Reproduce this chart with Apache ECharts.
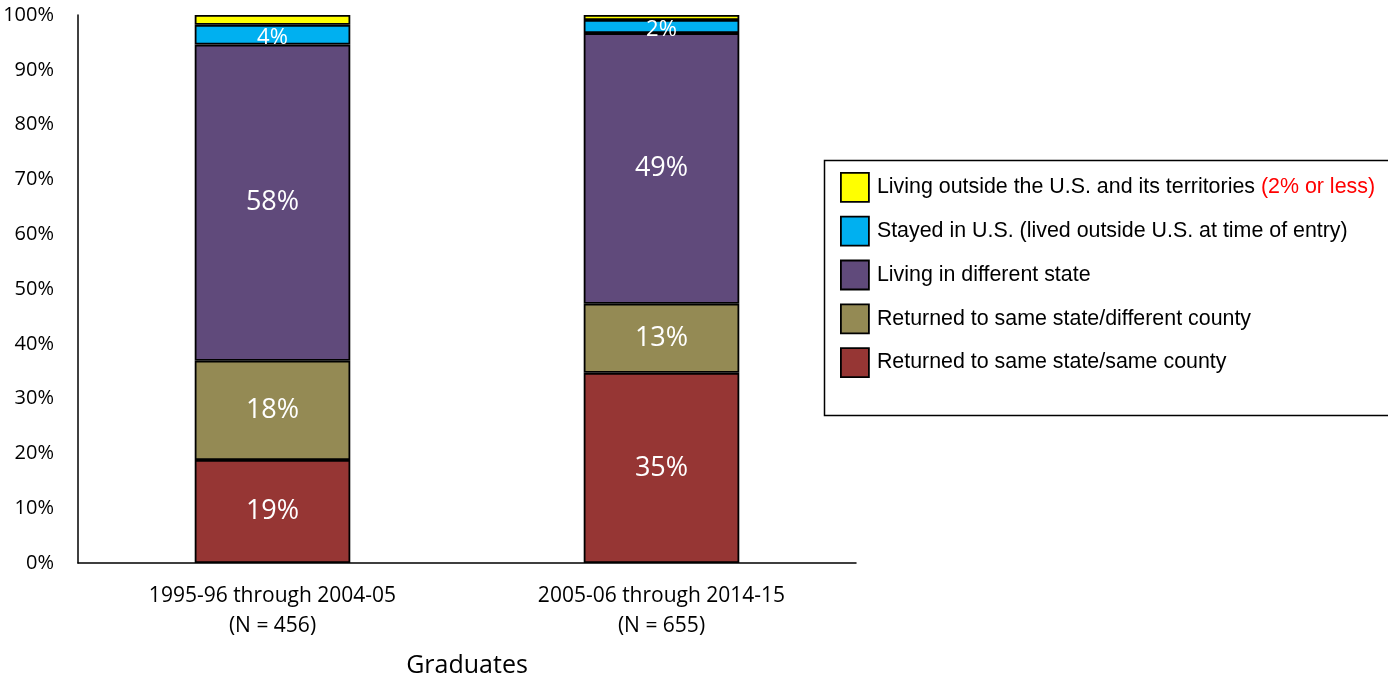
<!DOCTYPE html>
<html>
<head>
<meta charset="utf-8">
<script src="https://cdn.jsdelivr.net/npm/echarts@6/dist/echarts.min.js"></script>
<style>
  html, body { margin: 0; padding: 0; background: #fff; }
  #chart { width: 1388px; height: 675px; }
</style>
</head>
<body>
<div id="chart"></div>
<script>
const categories = ['1995-96 through 2004-05\n(N = 456)', '2005-06 through 2014-15\n(N = 655)'];
const yTicks = [0, 10, 20, 30, 40, 50, 60, 70, 80, 90, 100];

const sameCounty = [18.8, 34.7];
const diffCounty = [18.1, 12.6];
const diffState = [57.7, 49.4];
const stayedUS = [3.6, 2.4];
const outsideUS = [1.8, 0.9];

const names = [
    'Returned to same state/same county',
    'Returned to same state/different county',
    'Living in different state',
    'Stayed in U.S. (lived outside U.S. at time of entry)',
    'Living outside the U.S. and its territories'
];
const colors = ['#963634', '#948A54', '#604A7B', '#00B0F0', '#FFFF00'];
const seriesData = [sameCounty, diffCounty, diffState, stayedUS, outsideUS];

const labelFont = '"Open Sans", sans-serif';
const legendFont = '"Liberation Sans", Arial, sans-serif';

const chart = echarts.init(document.getElementById('chart'), null, { renderer: 'canvas' });

const series = seriesData.map((d, i) => ({
    name: names[i],
    type: 'bar',
    stack: 'total',
    barWidth: '40%',
    data: d,
    itemStyle: { color: colors[i], borderColor: '#000', borderWidth: 1.8 },
    label: {
        show: i < 4,
        position: 'inside',
        color: '#fff',
        fontSize: i === 3 ? 22 : 27,
        fontFamily: labelFont,
        offset: i === 3 ? [0, 3] : [0, 0],
        formatter: p => Math.round(p.value) + '%'
    },
    emphasis: { disabled: true }
}));

const option = {
    backgroundColor: '#fff',
    animation: false,
    grid: { left: 78, right: 532, top: 15, bottom: 112, containLabel: false, outerBoundsMode: 'none' },
    xAxis: {
        type: 'category',
        data: categories,
        name: 'Graduates',
        nameLocation: 'middle',
        nameGap: 90,
        nameTextStyle: { fontSize: 25, color: '#000', fontFamily: labelFont },
        axisLine: { lineStyle: { color: '#000', width: 1.5 } },
        axisTick: { show: false },
        axisLabel: { color: '#000', fontSize: 21, fontFamily: labelFont, margin: 18, lineHeight: 30 }
    },
    yAxis: {
        type: 'value',
        min: yTicks[0],
        max: yTicks[yTicks.length - 1],
        interval: 10,
        axisLine: { show: true, lineStyle: { color: '#000', width: 1.5 } },
        axisTick: { show: false },
        splitLine: { show: false },
        axisLabel: { color: '#000', fontSize: 20, fontFamily: labelFont, margin: 24, formatter: '{value}%' }
    },
    legend: {
        orient: 'vertical',
        left: 840,
        top: 172,
        padding: 0,
        icon: 'rect',
        itemWidth: 28,
        itemHeight: 29,
        itemGap: 13,
        data: names.slice().reverse(),
        itemStyle: { borderColor: '#000', borderWidth: 1.8 },
        textStyle: {
            fontSize: 21.4,
            color: '#000',
            fontFamily: legendFont,
            padding: [0, 0, 0, 3],
            rich: {
                red: { fontSize: 21.4, color: '#FF0000', fontFamily: legendFont }
            }
        },
        formatter: n => n === names[4] ? n + ' {red|(2% or less)}' : n,
        selectedMode: false
    },
    graphic: [{
        type: 'rect',
        left: 822,
        top: 158,
        shape: { width: 570, height: 255 },
        style: { fill: 'none', stroke: '#000', lineWidth: 1.5 },
        z: -1
    }],
    series: series
};

chart.setOption(option);
</script>
</body>
</html>
